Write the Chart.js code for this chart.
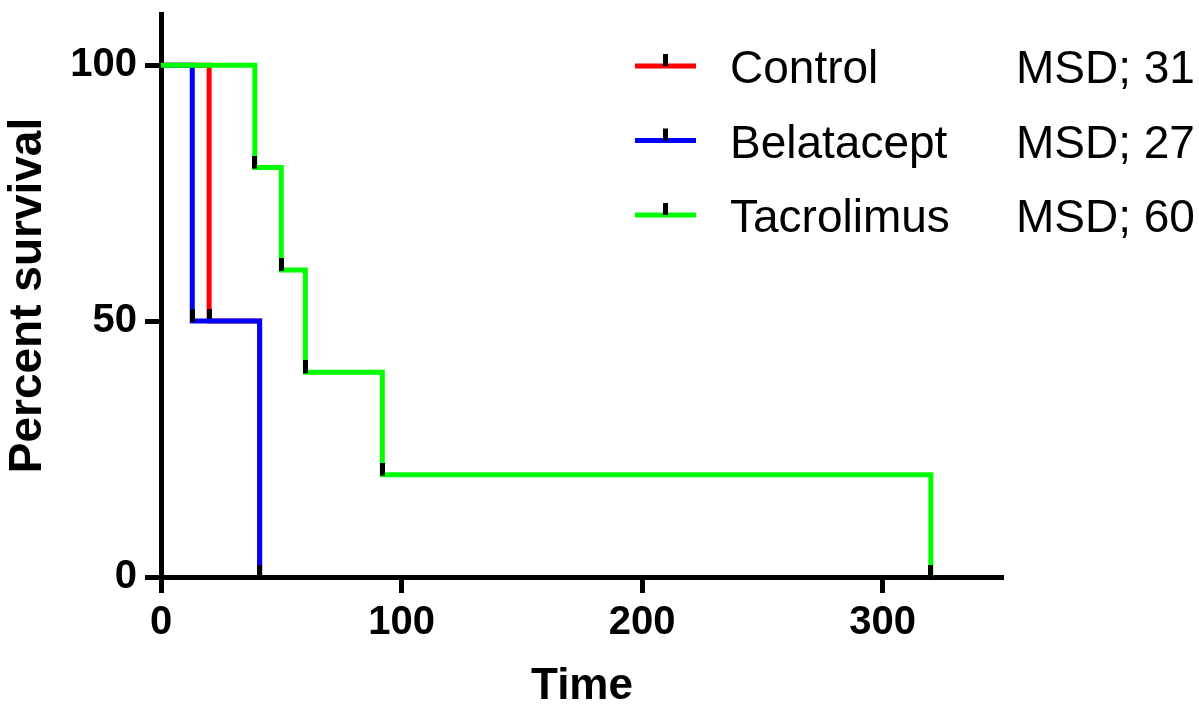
<!DOCTYPE html>
<html lang="en">
<head>
    <meta charset="UTF-8">
    <title>Percent survival</title>
    <script src="https://cdn.jsdelivr.net/npm/chart.js"></script>
    <style>
        body {
            margin: 0;
            padding: 0;
            background: #fff;
        }
        #wrap {
            width: 1199px;
            height: 705px;
        }
    </style>
</head>
<body>
    <div id="wrap">
        <canvas id="survivalChart" width="1199" height="705"></canvas>
    </div>

    <script>
        // survival data (days, percent)
        const controlDays = [0, 20, 41];
        const controlSurvival = [100, 50, 0];
        const belataceptDays = [0, 13, 41];
        const belataceptSurvival = [100, 50, 0];
        const tacrolimusDays = [0, 39, 50, 60, 92, 320];
        const tacrolimusSurvival = [100, 80, 60, 40, 20, 0];

        const seriesNames = ['Control', 'Belatacept', 'Tacrolimus'];
        const msdValues = [31, 27, 60];
        const seriesColors = ['#ff0000', '#0000ff', '#00ff00'];

        const xTicks = [0, 100, 200, 300];
        const yTicks = [0, 50, 100];

        const fontFamily = 'Arial, "Liberation Sans", sans-serif';

        // little black tick used as the point marker (sits just above the point)
        const tickMark = document.createElement('canvas');
        tickMark.width = 5;
        tickMark.height = 24;
        const tctx = tickMark.getContext('2d');
        tctx.fillStyle = '#000';
        tctx.fillRect(0, 0, 5, 13);

        function toPoints(days, values) {
            return days.map((d, i) => ({ x: d, y: values[i] }));
        }

        function makeDataset(i, days, values, order) {
            return {
                label: seriesNames[i],
                data: toPoints(days, values),
                borderColor: seriesColors[i],
                backgroundColor: seriesColors[i],
                borderWidth: 5,
                stepped: true,
                fill: false,
                clip: false,
                order: order,
                pointStyle: tickMark,
                pointRadius: ctx => ctx.dataIndex === 0 ? 0 : 5,
                pointHoverRadius: ctx => ctx.dataIndex === 0 ? 0 : 5
            };
        }

        // legend with the MSD column, drawn on the canvas
        const msdLegend = {
            id: 'msdLegend',
            afterDraw(chart) {
                const ctx = chart.ctx;
                ctx.save();
                seriesNames.forEach((name, i) => {
                    const y = 66 + i * 74.5;
                    ctx.strokeStyle = seriesColors[i];
                    ctx.lineWidth = 5;
                    ctx.beginPath();
                    ctx.moveTo(635, y);
                    ctx.lineTo(696, y);
                    ctx.stroke();
                    ctx.fillStyle = '#000';
                    ctx.fillRect(663, y - 12, 5, 12);

                    ctx.font = '46px ' + fontFamily;
                    ctx.textBaseline = 'alphabetic';
                    ctx.textAlign = 'left';
                    ctx.fillText(name, 730, y + 17);
                    ctx.fillText('MSD; ' + msdValues[i], 1016, y + 17);
                });
                ctx.restore();
            }
        };

        // keep the plot box fixed: no extra room for overhanging labels
        function noPadding(scale) {
            scale.paddingTop = 0;
            scale.paddingBottom = 0;
            scale.paddingLeft = 0;
            scale.paddingRight = 0;
        }

        const ctx = document.getElementById('survivalChart').getContext('2d');
        new Chart(ctx, {
            type: 'line',
            data: {
                datasets: [
                    makeDataset(0, controlDays, controlSurvival, 3),
                    makeDataset(1, belataceptDays, belataceptSurvival, 2),
                    makeDataset(2, tacrolimusDays, tacrolimusSurvival, 1)
                ]
            },
            options: {
                responsive: false,
                animation: false,
                layout: {
                    padding: { left: 0, right: 196, top: 14, bottom: 0 }
                },
                plugins: {
                    legend: { display: false },
                    tooltip: { enabled: false }
                },
                scales: {
                    x: {
                        type: 'linear',
                        min: 0,
                        max: 350,
                        afterFit: scale => { scale.height = 128; noPadding(scale); },
                        afterBuildTicks: scale => { scale.ticks = xTicks.map(v => ({ value: v })); },
                        border: { color: '#000', width: 5 },
                        grid: {
                            drawOnChartArea: false,
                            tickLength: 16,
                            tickWidth: 5,
                            tickColor: '#000'
                        },
                        ticks: {
                            color: '#000',
                            padding: 6,
                            maxRotation: 0,
                            font: { family: fontFamily, size: 40, weight: 'bold' }
                        },
                        title: {
                            display: true,
                            text: 'Time',
                            color: '#000',
                            padding: { top: 0, bottom: 0 },
                            font: { family: fontFamily, size: 44, weight: 'bold', lineHeight: 0.82 }
                        }
                    },
                    y: {
                        type: 'linear',
                        min: 0,
                        max: 110,
                        afterFit: scale => { scale.width = 161; noPadding(scale); },
                        afterBuildTicks: scale => { scale.ticks = yTicks.map(v => ({ value: v })); },
                        border: { color: '#000', width: 5 },
                        grid: {
                            drawOnChartArea: false,
                            tickLength: 16,
                            tickWidth: 5,
                            tickColor: '#000'
                        },
                        ticks: {
                            color: '#000',
                            padding: 8,
                            font: { family: fontFamily, size: 40, weight: 'bold' }
                        },
                        title: {
                            display: true,
                            text: 'Percent survival',
                            color: '#000',
                            padding: { top: 5, bottom: 0 },
                            font: { family: fontFamily, size: 46, weight: 'bold', lineHeight: 1 }
                        }
                    }
                }
            },
            plugins: [msdLegend]
        });
    </script>
</body>
</html>
